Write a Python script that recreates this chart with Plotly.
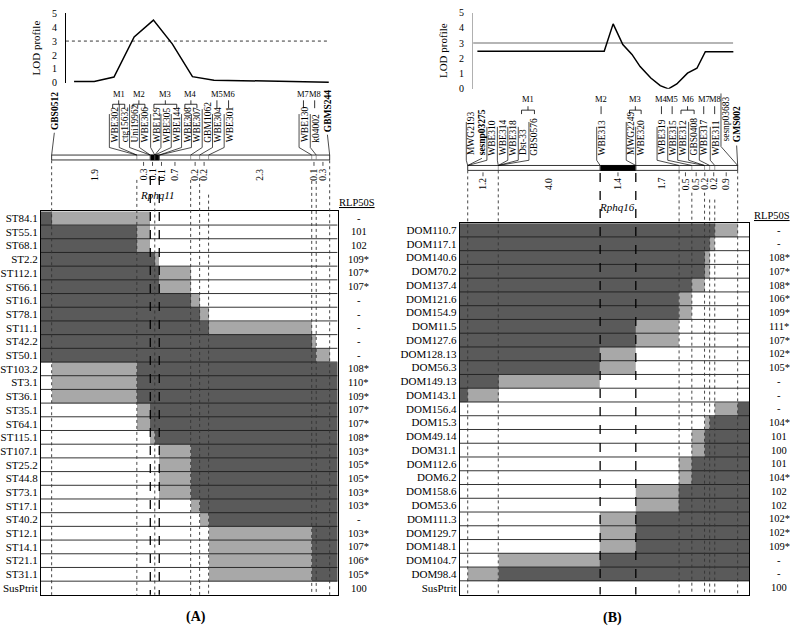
import plotly.graph_objects as go

W, H = 794, 631
SERIF = "Liberation Serif, Times New Roman, serif"
DARK = "#5a5a5a"
LIGHT = "#a8a8a8"

# ---------------- panel A : Rphq11 ----------------
a_intervals = [1.9, 0.3, 0.1, 0.1, 0.7, 0.2, 0.2, 2.3, 0.1, 0.3]
a_markers = ["GBS0512", "WBE302", "ctg15632", "Uni19962", "WBE306", "WBE129", "WBE305",
             "WBE144", "WBE308", "WBE307", "GBM1062", "WBE304", "WBE301", "WBE130",
             "k04002", "GBMS244"]
a_marker_locus = [0, 1, 1, 2, 2, 3, 3, 3, 4, 4, 5, 6, 7, 8, 9, 10]
a_flanking = ["GBS0512", "GBMS244"]
a_groups = [("M1", ["WBE302", "ctg15632"]), ("M2", ["Uni19962", "WBE306"]),
            ("M3", ["WBE129", "WBE305", "WBE144"]), ("M4", ["WBE308", "WBE307"]),
            ("M5", ["WBE304"]), ("M6", ["WBE301"]), ("M7", ["WBE130"]), ("M8", ["k04002"])]
a_qtl_name = "Rphq11"
a_qtl_loci = (2, 4)
a_lod_cm = [0.50, 0.95, 1.39, 1.84, 2.27, 2.69, 3.14, 3.62, 6.18]
a_lod = [0.1, 0.1, 0.42, 3.3, 4.5, 2.8, 0.45, 0.2, 0.05]
a_lines = ["ST84.1", "ST55.1", "ST68.1", "ST2.2", "ST112.1", "ST66.1", "ST16.1", "ST78.1",
           "ST11.1", "ST42.2", "ST50.1", "ST103.2", "ST3.1", "ST36.1", "ST35.1", "ST64.1",
           "ST115.1", "ST107.1", "ST25.2", "ST44.8", "ST73.1", "ST17.1", "ST40.2", "ST12.1",
           "ST14.1", "ST21.1", "ST31.1", "SusPtrit"]
# 2 = dark, 1 = light (recombination interval), 0 = white
a_geno = ["211000000000", "221000000000", "221000000000", "222210000000", "222221000000",
          "222221000000", "222222100000", "222222210000", "222222221000", "222222222100",
          "222222222210", "012222222222", "012222222222", "012222222222", "001222222222",
          "001222222222", "000122222222", "000001222222", "000001222222", "000001222222",
          "000001222222", "000000122222", "000000012222", "000000001222", "000000001222",
          "000000001222", "000000001222", "000000000000"]
a_rlp = ["-", "101", "102", "109*", "107*", "107*", "-", "-", "-", "-", "-", "108*", "110*",
         "109*", "107*", "107*", "108*", "103*", "105*", "105*", "103*", "103*", "-", "103*",
         "107*", "106*", "105*", "100"]

# ---------------- panel B : Rphq16 ----------------
b_intervals = [1.2, 4.0, 1.4, 1.7, 0.5, 0.5, 0.2, 0.2, 0.9]
b_markers = ["MWG2193", "sesnp03275", "WBE310", "WBE314", "WBE318", "Dst-33", "GBS0576",
             "WBE313", "MWG2249", "WBE320", "WBE319", "WBE315", "WBE312", "GBS0408",
             "WBE317", "WBE311", "sesnp03683", "GMS002"]
b_marker_locus = [0, 0, 0, 1, 1, 1, 1, 2, 3, 3, 4, 5, 6, 6, 7, 8, 9, 9]
b_flanking = ["sesnp03275", "GMS002"]
b_groups = [("M1", ["Dst-33", "GBS0576"]), ("M2", ["WBE313"]), ("M3", ["MWG2249", "WBE320"]),
            ("M4", ["WBE319"]), ("M5", ["WBE315"]), ("M6", ["WBE312", "GBS0408"]),
            ("M7", ["WBE317"]), ("M8", ["WBE311"])]
b_qtl_name = "Rphq16"
b_qtl_loci = (2, 3)
b_lod_cm = [0.38, 5.36, 5.71, 6.09, 6.45, 6.77, 7.19, 7.56, 7.88, 8.21, 8.63, 9.0, 9.33, 10.43]
b_lod = [2.47, 2.47, 4.26, 2.9, 2.26, 1.46, 0.71, 0.21, 0.0, 0.32, 1.03, 1.35, 2.43, 2.43]
b_lines = ["DOM110.7", "DOM117.1", "DOM140.6", "DOM70.2", "DOM137.4", "DOM121.6", "DOM154.9",
           "DOM11.5", "DOM127.6", "DOM128.13", "DOM56.3", "DOM149.13", "DOM143.1", "DOM156.4",
           "DOM15.3", "DOM49.14", "DOM31.1", "DOM112.6", "DOM6.2", "DOM158.6", "DOM53.6",
           "DOM111.3", "DOM129.7", "DOM148.1", "DOM104.7", "DOM98.4", "SusPtrit"]
b_geno = ["22222222210", "22222222100", "22222221000", "22222221000", "22222210000",
          "22222100000", "22222100000", "22221000000", "22221000000", "22210000000",
          "22210000000", "22100000000", "21000000000", "00000000012", "00000001222",
          "00000012222", "00000012222", "00000122222", "00000122222", "00001222222",
          "00001222222", "00012222222", "00012222222", "00012222222", "00122222222",
          "01222222222", "00000000000"]
b_rlp = ["-", "-", "108*", "107*", "108*", "106*", "109*", "111*", "107*", "102*", "105*", "-",
         "-", "-", "104*", "101", "100", "101", "104*", "102", "102", "102*", "102*", "109*",
         "-", "-", "100"]

# ---------------- layout (pixel positions) ----------------
LAY_A = dict(px0=50.7, scale=44.9, grid=(40, 337, 209, 599.3), lod=(65, 330, 7.3, 78.3),
             thr_end=328, thr=dict(color="black", width=0.8, dash="dot"), lod_axis="black",
             bar_top=151.7, label_bottom=140, special_bottom={"GBS0512": 127, "GBMS244": 129},
             label_x=[0.06, 1.41, 1.63, 1.86, 2.08, 2.33, 2.56, 2.79, 3.02, 3.24, 3.48, 3.71,
                      3.97, 5.64, 5.89, 6.15],
             m_y=89.3, br_y=100, num_y=171.7, num_nudge={3: 0.1},
             vstart=[157, 177, 173, 200, 173, 177, 175, 192, 178, 178, 157],
             qtl_xy=(2.36, 192.7), rlp_head=(356.7, 200), rlp_x=358, tag=("(A)", 195, 621.7))
LAY_B = dict(px0=467.3, scale=25.5, grid=(459.3, 749.3, 221, 599), lod=(472.7, 735, 6.7, 84.3),
             thr_end=733, thr=dict(color="#b5b5b5", width=2), lod_axis="#b0b0b0",
             bar_top=162.3, label_bottom=153, special_bottom={"GMS002": 140, "sesnp03683": 139},
             label_x=[0.16, 0.56, 0.97, 1.38, 1.79, 2.20, 2.62, 5.28, 6.44, 6.81, 7.65, 8.07,
                      8.46, 8.89, 9.31, 9.74, 10.16, 10.56],
             m_y=94.3, br_y=106, num_y=181, num_nudge={3: 0.16, 5: -0.08, 6: -0.09, 7: 0.06},
             vstart=[167.3, 167.3, 170, 170, 167.3, 190, 190, 197, 197, 167.3],
             qtl_xy=(5.86, 204.3), rlp_head=(772, 213), rlp_x=779, tag=("(B)", 612, 622.7))


def Y(p):
    return 1 - p / H


fig = go.Figure()
shapes, annots = [], []


def line(xref, x0, y0, x1, y1, color="black", width=0.8, dash=None):
    s = dict(type="line", xref=xref, yref="paper", x0=x0, x1=x1, y0=Y(y0), y1=Y(y1),
             line=dict(color=color, width=width))
    if dash:
        s["line"]["dash"] = dash
    shapes.append(s)


def text(xref, x, y, t, size=9.5, angle=0, yanchor="middle", yref="paper"):
    annots.append(dict(x=x, y=Y(y) if yref == "paper" else y, xref=xref, yref=yref, text=t,
                       textangle=angle, showarrow=False, xanchor="center", yanchor=yanchor,
                       borderpad=0, font=dict(family=SERIF, size=size, color="black")))


def panel(intervals, markers, locus, flank, groups, qtl_name, qtl_loci, lod_cm, lod,
          lines, geno, rlp, L, ax):
    xr, yr, xl, yl = ax
    pos = [0.0]
    for v in intervals:
        pos.append(round(pos[-1] + v, 3))

    def cm(px):
        return (px - L["px0"]) / L["scale"]

    gl, gr, gt, gb = L["grid"]
    x_lo, x_hi = cm(gl), cm(gr)
    n = len(lines)

    # graphical genotypes
    z = [[int(c) for c in row] for row in geno]
    fig.add_trace(go.Heatmap(
        z=z, x=[x_lo] + pos + [x_hi], y=list(range(n)), zmin=0, zmax=2,
        colorscale=[[0, "white"], [0.33, "white"], [0.34, LIGHT], [0.66, LIGHT],
                    [0.67, DARK], [1, DARK]],
        showscale=False, hoverinfo="skip", xaxis=xr, yaxis=yr))
    sx, sy = [], []
    for i in range(n - 1):
        sx += [x_lo, x_hi, None]
        sy += [i + 0.5, i + 0.5, None]
    fig.add_trace(go.Scatter(x=sx, y=sy, mode="lines", line=dict(color="#1e1e1e", width=0.9),
                             hoverinfo="skip", xaxis=xr, yaxis=yr))

    # LOD profile
    lx0, lx1, ly_top, ly_bot = L["lod"]
    fig.add_trace(go.Scatter(x=[cm(lx0), cm(L["thr_end"])], y=[3, 3], mode="lines",
                             line=L["thr"], hoverinfo="skip", xaxis=xl, yaxis=yl))
    fig.add_trace(go.Scatter(x=lod_cm, y=lod, mode="lines", line=dict(color="black", width=1.5),
                             hoverinfo="skip", xaxis=xl, yaxis=yl))

    xk = "xaxis" + xr[1:]
    yk = "yaxis" + yr[1:]
    xlk = "xaxis" + xl[1:]
    ylk = "yaxis" + yl[1:]
    fig.update_layout({
        xk: dict(domain=[gl / W, gr / W], range=[x_lo, x_hi], anchor=yr, showline=True,
                 mirror=True, linecolor="black", linewidth=1, showticklabels=False,
                 ticks="", showgrid=False, zeroline=False),
        yk: dict(domain=[Y(gb), Y(gt)], range=[n - 0.5, -0.5], anchor=xr, showline=True,
                 mirror=True, linecolor="black", linewidth=1, tickvals=list(range(n)),
                 ticktext=lines, ticks="", showgrid=False, zeroline=False,
                 tickfont=dict(family=SERIF, size=11, color="black")),
        xlk: dict(domain=[lx0 / W, lx1 / W], range=[cm(lx0), cm(lx1)], anchor=yl,
                  visible=False),
        ylk: dict(domain=[Y(ly_bot), Y(ly_top)], range=[0, 5], anchor=xl, showline=True,
                  linecolor=L["lod_axis"], linewidth=1, tickvals=[0, 1, 2, 3, 4, 5],
                  ticks="", ticklabelstandoff=6, showgrid=False, zeroline=False,
                  tickfont=dict(family=SERIF, size=10, color="black"),
                  title=dict(text="LOD profile", font=dict(family=SERIF, size=11,
                                                           color="black"), standoff=9)),
    })

    # chromosome bar
    bt = L["bar_top"]
    shapes.append(dict(type="rect", xref=xr, yref="paper", x0=pos[0], x1=pos[-1],
                       y0=Y(bt + 5), y1=Y(bt), line=dict(color="black", width=0.8),
                       fillcolor="white"))
    shapes.append(dict(type="rect", xref=xr, yref="paper", x0=pos[qtl_loci[0]],
                       x1=pos[qtl_loci[1]], y0=Y(bt + 5), y1=Y(bt),
                       line=dict(color="black", width=0.8), fillcolor="black"))
    for p in pos[1:-1]:
        line(xr, p, bt, p, bt + 5, color="#777777", width=0.7)

    # marker names and connectors
    off = 5.5 / L["scale"]
    label_pos = {}
    for name, loc, lx in zip(markers, locus, L["label_x"]):
        bold = name in flank
        bot = L["special_bottom"].get(name, L["label_bottom"])
        text(xr, lx, bot, "<b>%s</b>" % name if bold else name, size=9.5,
             angle=-90, yanchor="bottom")
        label_pos[name] = lx
        if bold:
            path = "M %f,%f L %f,%f" % (lx, Y(bot + 2), pos[loc], Y(bt))
        else:
            top = bot - 5.0 * len(name)
            path = "M %f,%f L %f,%f L %f,%f" % (lx - off, Y(top), lx - off, Y(bot + 4),
                                              pos[loc], Y(bt))
        shapes.append(dict(type="path", xref=xr, yref="paper", path=path,
                           line=dict(color="black", width=0.7)))

    # marker groups M1..M8
    by = L["br_y"]
    for gname, members in groups:
        xs = [label_pos[m] for m in members]
        x0, x1 = xs[0] - off * 0.4, xs[-1]
        xm = (x0 + x1) / 2
        if len(members) > 1:
            path = "M %f,%f L %f,%f L %f,%f L %f,%f M %f,%f L %f,%f" % (
                x0, Y(by + 4), x0, Y(by), x1, Y(by), x1, Y(by + 4), xm, Y(by), xm, Y(by - 4))
        else:
            path = "M %f,%f L %f,%f" % (xm, Y(by - 4), xm, Y(by + 4))
        shapes.append(dict(type="path", xref=xr, yref="paper", path=path,
                           line=dict(color="black", width=0.8)))
        text(xr, xm, L["m_y"], gname, size=8.5)

    # interval distances (cM)
    for i, v in enumerate(intervals):
        mid = (pos[i] + pos[i + 1]) / 2 + L["num_nudge"].get(i, 0)
        text(xr, mid, L["num_y"], "%.1f" % v, size=9.5, angle=-90)
        if v < 1.5:
            line(xr, mid, bt + 7, mid, bt + 11, width=0.7)

    # vertical guide lines down through the genotypes
    for k, p in enumerate(pos):
        dash = "dash" if k in qtl_loci else "dot"
        col = "black" if k in qtl_loci else "#333333"
        wid = 1.3 if k in qtl_loci else 0.9
        line(xr, p, L["vstart"][k], p, gb, color=col, width=wid, dash=dash)

    qx, qy = L["qtl_xy"]
    text(xr, qx, qy, "<i>%s</i>" % qtl_name, size=11)

    # resistance column
    hx, hy = L["rlp_head"]
    text("paper", hx / W, hy, "<u>RLP50S</u>", size=10.5)
    for i, v in enumerate(rlp):
        text("paper", L["rlp_x"] / W, i, v, size=10.5, yref=yr)

    tag, tx, ty = L["tag"]
    text("paper", tx / W, ty, "<b>%s</b>" % tag, size=14)


panel(a_intervals, a_markers, a_marker_locus, a_flanking, a_groups, a_qtl_name, a_qtl_loci,
      a_lod_cm, a_lod, a_lines, a_geno, a_rlp, LAY_A, ("x", "y", "x3", "y3"))
panel(b_intervals, b_markers, b_marker_locus, b_flanking, b_groups, b_qtl_name, b_qtl_loci,
      b_lod_cm, b_lod, b_lines, b_geno, b_rlp, LAY_B, ("x2", "y2", "x4", "y4"))

fig.update_layout(width=W, height=H, margin=dict(l=0, r=0, t=0, b=0),
                  paper_bgcolor="white", plot_bgcolor="rgba(0,0,0,0)", showlegend=False,
                  shapes=shapes, annotations=annots,
                  font=dict(family=SERIF, color="black"))

# page body margin would push the fixed-size figure off the 794x631 window
fig.write_html("out.html", config={"displayModeBar": False},
               post_script="document.body.style.margin='0px';")
